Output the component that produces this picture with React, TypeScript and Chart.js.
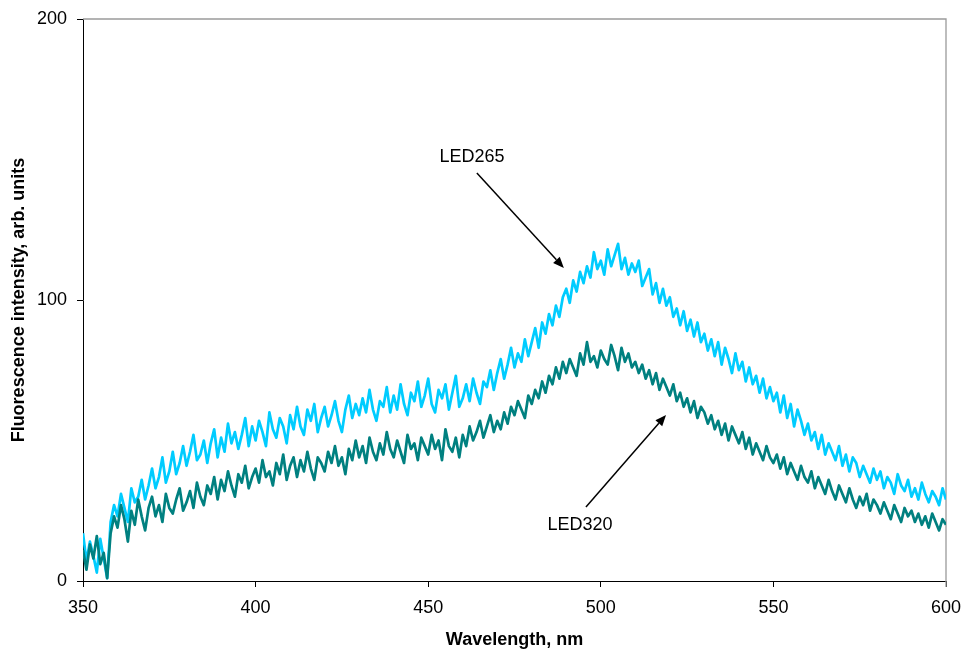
import React, { useEffect, useRef } from "react";
import { Chart, registerables } from "chart.js";

Chart.register(...registerables);

const FONT = "'Liberation Sans', Arial, Helvetica, sans-serif";

const WAVELENGTH_START = 350;
const WAVELENGTH_STEP = 1;
const X_MIN = 350;
const X_MAX = 600;
const Y_MIN = 0;
const Y_MAX = 200;
const X_TICKS = [350, 400, 450, 500, 550, 600];
const Y_TICKS = [0, 100, 200];

// LED265 excitation, 350..600 nm, 1 nm step
const led265 = [
  17, 7, 14, 9, 3, 15, 8, 1, 21, 27,
  23, 31, 26, 21, 33, 28, 30, 36, 29, 34,
  40, 33, 37, 44, 35, 39, 46, 38, 42, 48,
  41, 46, 52, 43, 45, 50, 42, 49, 54, 44,
  51, 46, 56, 49, 53, 47, 52, 58, 48, 55,
  50, 57, 53, 48, 60, 54, 51, 58, 55, 49,
  59, 54, 62, 55, 52, 61, 57, 63, 53, 58,
  62, 55, 59, 64, 57, 53, 61, 66, 58, 63,
  59, 65, 60, 68, 61, 57, 64, 62, 69, 60,
  66, 61, 70, 63, 59, 67, 64, 71, 62, 66,
  72, 63, 60, 68, 65, 70, 61, 67, 73, 62,
  65, 70, 64, 72, 67, 63, 71, 69, 75, 68,
  74, 79, 72, 77, 83, 76, 81, 78, 86, 80,
  85, 90, 83, 92, 88, 95, 91, 98, 94, 101,
  104, 99, 107, 103, 110, 106, 112, 108, 117, 111,
  114, 109, 118, 112, 116, 120, 111, 115, 109, 113,
  110, 114, 105, 108, 111, 102, 106, 99, 104, 98,
  101, 94, 97, 91, 96, 89, 93, 87, 92, 85,
  88, 82, 86, 80, 85, 77, 83, 79, 74, 81,
  75, 78, 71, 76, 70, 73, 67, 72, 65, 69,
  64, 67, 60, 66, 58, 63, 55, 61, 57, 52,
  56, 50, 53, 47, 52, 45, 49, 46, 43, 48,
  41, 45, 39, 44, 42, 37, 41, 38, 35, 40,
  36, 39, 33, 37, 35, 31, 38, 34, 32, 36,
  30, 33, 29, 35, 31, 28, 32, 30, 27, 33,
  29,
];

// LED320 excitation, 350..600 nm, 1 nm step
const led320 = [
  11, 4, 13, 8, 16, 6, 10, 1, 17, 23,
  19, 27, 22, 14, 25, 20, 29, 23, 18, 26,
  30, 23, 27, 21, 31, 26, 24, 29, 33, 25,
  28, 32, 26, 35, 30, 27, 34, 31, 37, 29,
  36, 32, 39, 34, 30, 38, 35, 41, 33, 37,
  40, 35, 43, 37, 39, 34, 42, 38, 45, 36,
  41, 44, 37, 43, 39, 46, 40, 36, 44, 42,
  39, 46, 42, 48, 41, 44, 38, 47, 43, 50,
  44, 48, 42, 51, 46, 43, 49, 45, 53, 47,
  44, 50, 46, 42, 52, 47, 49, 43, 51, 48,
  45, 52, 47, 50, 43, 54, 48, 46, 51, 44,
  52, 48, 55, 50, 53, 57, 51, 55, 59, 53,
  57, 54, 60, 56, 62, 59, 64, 61, 58, 66,
  63, 68, 65, 71, 67, 73, 70, 76, 72, 78,
  74, 79, 76, 73, 81, 77, 85, 78, 80, 76,
  82, 79, 77, 84, 80, 75, 83, 78, 81, 76,
  78, 74, 77, 72, 75, 70, 74, 68, 72, 69,
  66, 70, 64, 67, 62, 65, 60, 64, 58, 62,
  60, 56, 59, 54, 57, 52, 56, 50, 55, 52,
  49, 53, 47, 51, 45, 49, 46, 43, 48, 44,
  42, 45, 40, 44, 38, 42, 39, 36, 41, 37,
  35, 39, 33, 37, 34, 31, 36, 32, 29, 34,
  31, 28, 33, 29, 26, 30, 27, 31, 25, 29,
  27, 24, 28, 25, 22, 27, 24, 21, 26, 23,
  25, 21, 24, 20, 23, 19, 24, 21, 18, 22,
  20,
];

const ANNOTATIONS = [
  { text: "LED265", labelX: 462.7, labelY: 150.9, fromX: 464.1, fromY: 145.2, toX: 489.3, toY: 111.4 },
  { text: "LED320", labelX: 494.0, labelY: 19.9, fromX: 495.7, fromY: 26.3, toX: 518.9, toY: 59.1 },
];

const framePlugin = {
  id: "frame",
  beforeDatasetsDraw(chart: any) {
    const { ctx, chartArea } = chart;
    ctx.save();
    ctx.strokeStyle = "#9a9a9a";
    ctx.lineWidth = 1.3;
    ctx.beginPath();
    ctx.moveTo(chartArea.left, chartArea.top);
    ctx.lineTo(chartArea.right, chartArea.top);
    ctx.lineTo(chartArea.right, chartArea.bottom + 6);
    ctx.stroke();
    ctx.restore();
  },
};

const annotationPlugin = {
  id: "arrows",
  afterDatasetsDraw(chart: any) {
    const { ctx } = chart;
    const xs = chart.scales.x;
    const ys = chart.scales.y;
    ctx.save();
    for (const a of ANNOTATIONS) {
      const lx = xs.getPixelForValue(a.labelX);
      const ly = ys.getPixelForValue(a.labelY);
      ctx.fillStyle = "#000";
      ctx.font = `18px ${FONT}`;
      ctx.textAlign = "center";
      ctx.textBaseline = "middle";
      ctx.fillText(a.text, lx, ly);
      const x1 = xs.getPixelForValue(a.fromX);
      const y1 = ys.getPixelForValue(a.fromY);
      const x2 = xs.getPixelForValue(a.toX);
      const y2 = ys.getPixelForValue(a.toY);
      const ang = Math.atan2(y2 - y1, x2 - x1);
      const headLen = 11;
      const headW = 4.5;
      const bx = x2 - headLen * Math.cos(ang);
      const by = y2 - headLen * Math.sin(ang);
      ctx.strokeStyle = "#000";
      ctx.lineWidth = 1.5;
      ctx.beginPath();
      ctx.moveTo(x1, y1);
      ctx.lineTo(bx, by);
      ctx.stroke();
      ctx.beginPath();
      ctx.moveTo(x2, y2);
      ctx.lineTo(bx + headW * Math.sin(ang), by - headW * Math.cos(ang));
      ctx.lineTo(bx - headW * Math.sin(ang), by + headW * Math.cos(ang));
      ctx.closePath();
      ctx.fill();
    }
    ctx.restore();
  },
};

const toPoints = (arr: number[]) =>
  arr.map((y, i) => ({ x: WAVELENGTH_START + i * WAVELENGTH_STEP, y }));

export default function App() {
  const ref = useRef<HTMLCanvasElement>(null);

  useEffect(() => {
    const canvas = ref.current;
    if (!canvas) return;
    const tickFont = { family: FONT, size: 18 };
    const titleFont = { family: FONT, size: 18, weight: "bold" as const };
    const chart = new Chart(canvas, {
      type: "line",
      data: {
        datasets: [
          {
            label: "LED320",
            data: toPoints(led320),
            borderColor: "#008080",
            borderWidth: 2.7,
            pointRadius: 0,
            tension: 0,
            fill: false,
            borderJoinStyle: "round",
          },
          {
            label: "LED265",
            data: toPoints(led265),
            borderColor: "#00CCFF",
            borderWidth: 2.7,
            pointRadius: 0,
            tension: 0,
            fill: false,
            borderJoinStyle: "round",
          },
        ],
      },
      options: {
        responsive: false,
        animation: false,
        events: [],
        layout: { padding: { top: 19, right: 16, left: 0, bottom: 0 } },
        plugins: {
          legend: { display: false },
          tooltip: { enabled: false },
        },
        scales: {
          x: {
            type: "linear",
            min: X_MIN,
            max: X_MAX,
            afterBuildTicks: (s: any) => {
              s.ticks = X_TICKS.map((v) => ({ value: v }));
            },
            afterFit: (s: any) => {
              s.height = 70;
              s.paddingLeft = 0;
              s.paddingRight = 0;
            },
            ticks: { font: tickFont, color: "#000", padding: 10, maxRotation: 0, autoSkip: false },
            grid: { drawOnChartArea: false, tickLength: 6, color: "#000", lineWidth: 1 },
            border: { color: "#000", width: 1 },
            title: {
              display: true,
              text: "Wavelength, nm",
              font: titleFont,
              color: "#000",
              padding: { top: 0, bottom: 0 },
            },
          },
          y: {
            type: "linear",
            min: Y_MIN,
            max: Y_MAX,
            afterBuildTicks: (s: any) => {
              s.ticks = Y_TICKS.map((v) => ({ value: v }));
            },
            afterFit: (s: any) => {
              s.width = 83;
              s.paddingTop = 0;
              s.paddingBottom = 0;
            },
            ticks: { font: tickFont, color: "#000", padding: 10, autoSkip: false },
            grid: { drawOnChartArea: false, tickLength: 6, color: "#000", lineWidth: 1 },
            border: { color: "#000", width: 1 },
            title: {
              display: true,
              text: "Fluorescence intensity, arb. units",
              font: titleFont,
              color: "#000",
              padding: { top: 8, bottom: 0 },
            },
          },
        },
      },
      plugins: [framePlugin, annotationPlugin],
    });
    return () => chart.destroy();
  }, []);

  return (
    <div style={{ position: "absolute", left: 0, top: 0, width: 962, height: 651, background: "#fff" }}>
      <canvas ref={ref} width={962} height={651} style={{ display: "block" }} />
    </div>
  );
}
